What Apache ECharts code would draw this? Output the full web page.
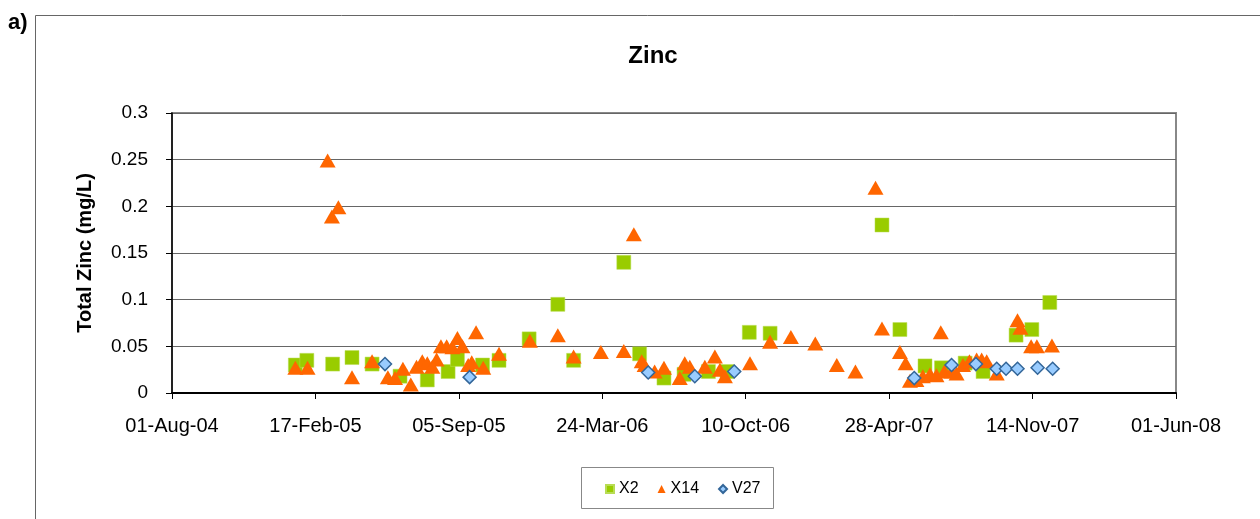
<!DOCTYPE html>
<html>
<head>
  <meta charset="utf-8">
  <title>Zinc</title>
  <script src="https://cdn.jsdelivr.net/npm/echarts@6/dist/echarts.min.js"></script>
  <style>
    html, body { margin: 0; padding: 0; background: #fff; }
    #chart { width: 1260px; height: 519px; }
  </style>
</head>
<body>
  <div id="chart"></div>
  <script>
    // axis: days counted from 01-Aug-04, a tick every 200 days
    var axisStart = '2004-08-01';
    var axisDays = 1400;
    var tickDays = 200;
    var yTicks = [0, 0.05, 0.1, 0.15, 0.2, 0.25, 0.3];

    // X2
    var x2Dates = ['2005-01-20', '2005-02-05', '2005-03-13', '2005-04-09', '2005-05-07', '2005-06-15',
      '2005-07-23', '2005-08-21', '2005-09-03', '2005-10-08', '2005-10-31', '2005-12-12',
      '2006-01-21', '2006-02-12', '2006-04-23', '2006-05-15', '2006-06-18', '2006-07-16',
      '2006-08-19', '2006-09-14', '2006-10-15', '2006-11-13', '2007-04-18', '2007-05-13',
      '2007-06-17', '2007-07-10', '2007-08-12', '2007-09-06', '2007-10-22', '2007-11-13', '2007-12-08'];
    var x2Values = [0.030, 0.035, 0.031, 0.038, 0.031, 0.018,
      0.014, 0.023, 0.036, 0.030, 0.035, 0.058,
      0.095, 0.035, 0.140, 0.042, 0.016, 0.020,
      0.023, 0.023, 0.065, 0.064, 0.180, 0.068,
      0.029, 0.027, 0.032, 0.023, 0.062, 0.068, 0.097];

    // X14
    var x14Dates = ['2005-01-20', '2005-02-06', '2005-03-06', '2005-03-12', '2005-03-21', '2005-04-09',
      '2005-05-07', '2005-05-29', '2005-06-08', '2005-06-19', '2005-06-30', '2005-07-08',
      '2005-07-16', '2005-07-23', '2005-07-30', '2005-08-05', '2005-08-11', '2005-08-19',
      '2005-08-27', '2005-09-03', '2005-09-10', '2005-09-18', '2005-09-23', '2005-09-29',
      '2005-10-09', '2005-10-31', '2005-12-13', '2006-01-21', '2006-02-12', '2006-03-22',
      '2006-04-23', '2006-05-07', '2006-05-18', '2006-05-22', '2006-06-05', '2006-06-18',
      '2006-07-10', '2006-07-17', '2006-07-24', '2006-08-14', '2006-08-28', '2006-09-04',
      '2006-09-11', '2006-10-16', '2006-11-13', '2006-12-12', '2007-01-15', '2007-02-14',
      '2007-03-12', '2007-04-09', '2007-04-18', '2007-05-13', '2007-05-21', '2007-05-27',
      '2007-06-05', '2007-06-14', '2007-06-24', '2007-07-03', '2007-07-09', '2007-07-14',
      '2007-07-24', '2007-07-31', '2007-08-09', '2007-08-18', '2007-08-28', '2007-09-04',
      '2007-09-11', '2007-09-25', '2007-10-24', '2007-10-28', '2007-11-12', '2007-11-20', '2007-12-11'];
    var x14Values = [0.027, 0.027, 0.249, 0.189, 0.199, 0.017,
      0.034, 0.017, 0.016, 0.026, 0.009, 0.028,
      0.034, 0.032, 0.028, 0.036, 0.050, 0.050,
      0.049, 0.059, 0.050, 0.030, 0.033, 0.065,
      0.027, 0.042, 0.056, 0.062, 0.039, 0.044,
      0.045, 0.170, 0.034, 0.030, 0.023, 0.027,
      0.016, 0.032, 0.028, 0.028, 0.039, 0.025,
      0.018, 0.032, 0.055, 0.060, 0.053, 0.030,
      0.023, 0.220, 0.069, 0.044, 0.032, 0.013,
      0.014, 0.018, 0.020, 0.019, 0.065, 0.023,
      0.023, 0.021, 0.030, 0.034, 0.036, 0.036,
      0.034, 0.021, 0.078, 0.070, 0.050, 0.050, 0.051];

    // V27
    var v27Dates = ['2005-05-25', '2005-09-20', '2006-05-27', '2006-07-31', '2006-09-24', '2007-06-02',
      '2007-07-24', '2007-08-27', '2007-09-25', '2007-10-08', '2007-10-24', '2007-11-21', '2007-12-12'];
    var v27Values = [0.031, 0.017, 0.022, 0.018, 0.023, 0.016,
      0.030, 0.031, 0.026, 0.026, 0.026, 0.027, 0.026];

    var DAY = 86400000;
    var months = ['Jan', 'Feb', 'Mar', 'Apr', 'May', 'Jun', 'Jul', 'Aug', 'Sep', 'Oct', 'Nov', 'Dec'];
    var t0 = Date.parse(axisStart + 'T00:00:00Z');

    function toDay(s) {
      return Math.round((Date.parse(s + 'T00:00:00Z') - t0) / DAY);
    }
    function pairs(dates, vals) {
      return dates.map(function (d, i) { return [toDay(d), vals[i]]; });
    }
    function pad(n) { return n < 10 ? '0' + n : '' + n; }
    function dayLabel(v) {
      var d = new Date(t0 + v * DAY);
      return pad(d.getUTCDate()) + '-' + months[d.getUTCMonth()] + '-' + pad(d.getUTCFullYear() % 100);
    }

    var font = 'Liberation Sans, Arial, sans-serif';
    var myChart = echarts.init(document.getElementById('chart'));
    var option = {
      animation: false,
      backgroundColor: '#fff',
      textStyle: { fontFamily: font },
      title: {
        text: 'Zinc',
        left: 648, top: 39, textAlign: 'center',
        textStyle: { fontFamily: font, fontSize: 24, fontWeight: 'bold', color: '#000' }
      },
      graphic: [
        { type: 'polyline', shape: { points: [[35.5, 519], [35.5, 15.5], [1260, 15.5]] },
          style: { stroke: '#666', lineWidth: 1, fill: null } },
        { type: 'text', left: 8, top: 12,
          style: { text: 'a)', font: 'bold 22px ' + font, fill: '#000' } },
        { type: 'rect', shape: { x: 581.5, y: 467.5, width: 192, height: 41 },
          style: { stroke: '#888', lineWidth: 1, fill: '#fff' }, z: 0 }
      ],
      legend: {
        left: 605, top: 481, padding: 0, itemGap: 19, itemWidth: 8, itemHeight: 8,
        textStyle: { fontFamily: font, fontSize: 16, color: '#000' },
        data: [
          { name: 'X2', icon: 'rect' },
          { name: 'X14', icon: 'triangle' },
          { name: 'V27', icon: 'diamond' }
        ]
      },
      grid: {
        left: 172, right: 84, top: 113, bottom: 126,
        show: true, borderColor: '#888', borderWidth: 2, backgroundColor: '#fff'
      },
      xAxis: {
        type: 'value',
        min: 0, max: axisDays, interval: tickDays,
        axisLine: { onZero: false, lineStyle: { color: '#000', width: 2 } },
        axisTick: { show: true, length: 6, lineStyle: { color: '#000' } },
        axisLabel: {
          formatter: dayLabel, margin: 23, color: '#000',
          fontFamily: font, fontSize: 20
        },
        splitLine: { show: false }
      },
      yAxis: {
        type: 'value',
        min: yTicks[0], max: yTicks[yTicks.length - 1], interval: 0.05,
        name: 'Total Zinc (mg/L)',
        nameLocation: 'middle', nameGap: 77, nameRotate: 90,
        nameTextStyle: { fontFamily: font, fontSize: 20, fontWeight: 'bold', color: '#000' },
        axisLine: { show: true, lineStyle: { color: '#000', width: 1.5 } },
        axisTick: { show: true, length: 6, lineStyle: { color: '#000' } },
        axisLabel: { margin: 24, color: '#000', fontFamily: font, fontSize: 19 },
        splitLine: { lineStyle: { color: '#666', width: 1 } }
      },
      series: [
        {
          name: 'X2', type: 'scatter', symbol: 'rect', symbolSize: 14,
          itemStyle: { color: '#99CC00', borderColor: '#b8dc55', borderWidth: 0.5, opacity: 1 },
          data: pairs(x2Dates, x2Values), z: 2
        },
        {
          name: 'X14', type: 'scatter', symbol: 'triangle', symbolSize: [16, 14],
          itemStyle: { color: '#FF6600', opacity: 1 },
          data: pairs(x14Dates, x14Values), z: 3
        },
        {
          name: 'V27', type: 'scatter', symbol: 'diamond', symbolSize: 13,
          itemStyle: { color: '#99CCFF', borderColor: '#336699', borderWidth: 1.5, opacity: 1 },
          data: pairs(v27Dates, v27Values), z: 4
        }
      ]
    };
    myChart.setOption(option);
  </script>
</body>
</html>
